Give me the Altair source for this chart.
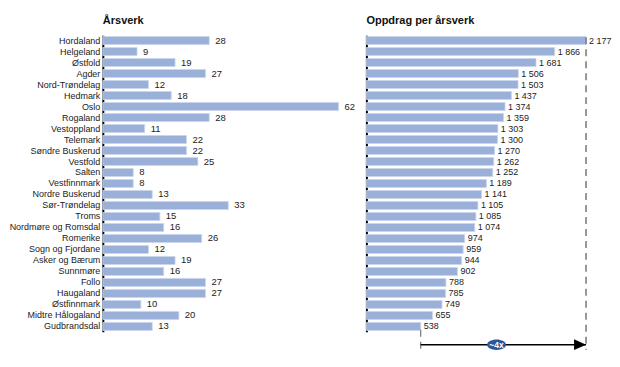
import altair as alt
import pandas as pd

regions = ["Hordaland", "Helgeland", "Østfold", "Agder", "Nord-Trøndelag", "Hedmark",
           "Oslo", "Rogaland", "Vestoppland", "Telemark", "Søndre Buskerud", "Vestfold",
           "Salten", "Vestfinnmark", "Nordre Buskerud", "Sør-Trøndelag", "Troms",
           "Nordmøre og Romsdal", "Romerike", "Sogn og Fjordane", "Asker og Bærum",
           "Sunnmøre", "Follo", "Haugaland", "Østfinnmark", "Midtre Hålogaland",
           "Gudbrandsdal"]
arsverk = [28, 9, 19, 27, 12, 18, 62, 28, 11, 22, 22, 25, 8, 8, 13, 33, 15, 16, 26, 12,
           19, 16, 27, 27, 10, 20, 13]
oppdrag = [2177, 1866, 1681, 1506, 1503, 1437, 1374, 1359, 1303, 1300, 1270, 1262, 1252,
           1189, 1141, 1105, 1085, 1074, 974, 959, 944, 902, 788, 785, 749, 655, 538]
ratio_label = ["~4x"]
ratio_label_pos = [1290]

FONT = "Liberation Sans"
BAR = "#9AB0D8"
H = 297

left_df = pd.DataFrame({"region": regions, "v": arsverk,
                        "lab": [str(v) for v in arsverk]})
rank = [f"r{i:02d}" for i in range(len(oppdrag))]
right_df = pd.DataFrame({"rank": rank, "v": oppdrag,
                         "lab": [f"{v:,}".replace(",", " ") for v in oppdrag]})

band = alt.Scale(paddingInner=0.27, paddingOuter=0.12)

# Left panel
ly = alt.Y("region:N", sort=regions, scale=band,
           axis=alt.Axis(title=None, ticks=False, domainColor="black", domainWidth=2,
                         labelFont=FONT, labelFontSize=9, labelColor="#222",
                         labelPadding=3, labelLimit=200))
lx = alt.X("v:Q", scale=alt.Scale(domain=[0, max(arsverk)], nice=False), axis=None)
lbase = alt.Chart(left_df)
left = alt.layer(
    lbase.mark_bar(color=BAR, stroke="#C9D5EC", strokeWidth=0.8).encode(x=lx, y=ly),
    lbase.mark_text(align="left", baseline="middle", dx=6, font=FONT, fontSize=9.5,
                    color="#222").encode(x=lx, y=ly, text="lab:N"),
).properties(width=236, height=H,
             title=alt.TitleParams("Årsverk", anchor="start", frame="group",
                                   fontSize=11, fontWeight="bold", font=FONT,
                                   color="#111", offset=9))

# Right panel
ry = alt.Y("rank:N", sort=rank, scale=band,
           axis=alt.Axis(title=None, ticks=False, labels=False, domainColor="black",
                         domainWidth=2))
rx_scale = alt.Scale(domain=[0, max(oppdrag)], nice=False)
rx = alt.X("v:Q", scale=rx_scale, axis=None)
rbase = alt.Chart(right_df)

max_df = pd.DataFrame({"v": [max(oppdrag)]})
min_df = pd.DataFrame({"v": [min(oppdrag)]})
arrow_df = pd.DataFrame({"v": [min(oppdrag)], "v2": [max(oppdrag)]})
lab_df = pd.DataFrame({"v": ratio_label_pos, "t": ratio_label})

ARROW_Y = 310
right = alt.layer(
    rbase.mark_bar(color=BAR, stroke="#C9D5EC", strokeWidth=0.8).encode(x=rx, y=ry),
    rbase.mark_text(align="left", baseline="middle", dx=3, font=FONT, fontSize=9,
                    color="#222").encode(x=rx, y=ry, text="lab:N"),
    alt.Chart(max_df).mark_rule(color="#777", strokeWidth=1.5, strokeDash=[7, 5]).encode(
        x=alt.X("v:Q", scale=rx_scale, axis=None), y=alt.value(2), y2=alt.value(315)),
    alt.Chart(min_df).mark_rule(color="#777", strokeWidth=1.2, strokeDash=[7, 5]).encode(
        x=alt.X("v:Q", scale=rx_scale, axis=None), y=alt.value(295), y2=alt.value(315)),
    alt.Chart(arrow_df).mark_rule(color="black", strokeWidth=1.5).encode(
        x=alt.X("v:Q", scale=rx_scale, axis=None), x2="v2:Q", y=alt.value(ARROW_Y)),
    alt.Chart(max_df).mark_point(shape="M0,0 L-2,-0.9 L-2,0.9 Z", size=144, filled=True,
                                 color="black", opacity=1).encode(
        x=alt.X("v:Q", scale=rx_scale, axis=None), y=alt.value(ARROW_Y)),
    alt.Chart(lab_df).mark_point(shape="M-1,0 A1,0.55 0 1,1 1,0 A1,0.55 0 1,1 -1,0 Z",
                                 size=361, filled=True, color="#2E5597", opacity=1).encode(
        x=alt.X("v:Q", scale=rx_scale, axis=None), y=alt.value(ARROW_Y)),
    alt.Chart(lab_df).mark_text(font=FONT, fontSize=8.5, fontWeight="bold", color="white",
                                baseline="middle").encode(
        x=alt.X("v:Q", scale=rx_scale, axis=None), y=alt.value(ARROW_Y), text="t:N"),
).properties(width=220, height=H,
             title=alt.TitleParams("Oppdrag per årsverk", anchor="start", frame="group",
                                   fontSize=11, fontWeight="bold", font=FONT,
                                   color="#111", offset=9))

chart = alt.hconcat(left, right, spacing=28, bounds="flush").properties(
    padding={"top": 7, "left": 0, "right": 0, "bottom": 0}
).configure(background="white", view=alt.ViewConfig(stroke=None))

chart.save("out.html", embed_options={"renderer": "svg", "actions": False})
